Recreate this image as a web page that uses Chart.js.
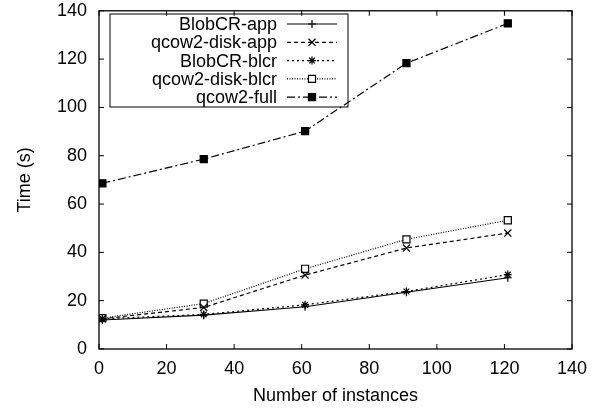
<!DOCTYPE html>
<html>
<head>
<meta charset="utf-8">
<script src="https://cdn.jsdelivr.net/npm/chart.js@4/dist/chart.umd.min.js"></script>
<style>
  html, body { margin: 0; padding: 0; background: #fff; }
  #wrap { width: 607px; height: 411px; }
</style>
</head>
<body>
<div id="wrap"><canvas id="timeChart" width="607" height="411"></canvas></div>
<script>
// number of instances (x) and time in seconds for each series
const instances = [1, 31, 61, 91, 121];
const blobcrApp = [12, 14, 17.5, 23.5, 29.5];
const qcowDiskApp = [12.5, 17.2, 30.6, 41.8, 48];
const blobcrBlcr = [12.5, 14.3, 18.3, 23.8, 30.8];
const qcowDiskBlcr = [12.8, 18.8, 33.2, 45.4, 53.3];
const qcowFull = [68.6, 78.6, 90.2, 118.3, 134.8];

const seriesNames = ["BlobCR-app", "qcow2-disk-app", "BlobCR-blcr", "qcow2-disk-blcr", "qcow2-full"];
const xTicks = [0, 20, 40, 60, 80, 100, 120, 140];
const yTicks = [0, 20, 40, 60, 80, 100, 120, 140];

const FONT = "'Liberation Sans', Arial, Helvetica, sans-serif";

// build {x, y} points from the arrays
function toPoints(values) {
  return instances.map((x, i) => ({ x: x, y: values[i] }));
}

const styles = [
  { dash: [], point: "cross", radius: 4, fill: "#000" },
  { dash: [4, 3], point: "crossRot", radius: 5, fill: "#000" },
  { dash: [2, 3], point: "star", radius: 4, fill: "#000" },
  { dash: [1, 1.5], point: "rect", radius: 5, fill: "#fff" },
  { dash: [8, 3, 2, 3], point: "rect", radius: 5, fill: "#000" },
];

const allValues = [blobcrApp, qcowDiskApp, blobcrBlcr, qcowDiskBlcr, qcowFull];

const datasets = allValues.map((vals, i) => ({
  label: seriesNames[i],
  data: toPoints(vals),
  showLine: true,
  borderColor: "#000",
  borderWidth: 1.2,
  borderDash: styles[i].dash,
  pointStyle: styles[i].point,
  pointRadius: styles[i].radius,
  pointBorderWidth: 1.2,
  pointBorderColor: "#000",
  pointBackgroundColor: styles[i].fill,
  fill: false,
  tension: 0,
}));

// gnuplot-like frame, inward ticks and key box
const framePlugin = {
  id: "frame",
  afterDraw(chart) {
    const ctx = chart.ctx;
    const area = chart.chartArea;
    const xs = chart.scales.x;
    const ys = chart.scales.y;
    ctx.save();
    ctx.strokeStyle = "#000";
    ctx.lineWidth = 1.3;
    ctx.setLineDash([]);
    ctx.strokeRect(area.left, area.top, area.right - area.left, area.bottom - area.top);

    ctx.lineWidth = 1;
    const tl = 5;
    ctx.beginPath();
    xTicks.forEach((v) => {
      const px = xs.getPixelForValue(v);
      ctx.moveTo(px, area.bottom);
      ctx.lineTo(px, area.bottom - tl);
      ctx.moveTo(px, area.top);
      ctx.lineTo(px, area.top + tl);
    });
    yTicks.forEach((v) => {
      const py = ys.getPixelForValue(v);
      ctx.moveTo(area.left, py);
      ctx.lineTo(area.left + tl, py);
      ctx.moveTo(area.right, py);
      ctx.lineTo(area.right - tl, py);
    });
    ctx.stroke();

    // key box
    const boxL = 110, boxT = 14, boxW = 238, boxH = 93;
    ctx.lineWidth = 1;
    ctx.strokeRect(boxL, boxT, boxW, boxH);
    ctx.font = "18px " + FONT;
    ctx.fillStyle = "#000";
    ctx.textAlign = "right";
    ctx.textBaseline = "middle";
    chart.data.datasets.forEach((ds, i) => {
      const rowY = 24 + i * 18.3;
      ctx.fillText(ds.label, 277, rowY + 1);
      ctx.beginPath();
      ctx.setLineDash(ds.borderDash);
      ctx.lineWidth = ds.borderWidth;
      ctx.moveTo(287, rowY);
      ctx.lineTo(337, rowY);
      ctx.stroke();
      ctx.setLineDash([]);
      ctx.fillStyle = ds.pointBackgroundColor;
      ctx.strokeStyle = "#000";
      Chart.helpers.drawPoint(ctx, {
        pointStyle: ds.pointStyle,
        radius: ds.pointRadius,
        borderWidth: ds.pointBorderWidth,
        rotation: 0,
      }, 312, rowY);
      ctx.fillStyle = "#000";
    });
    ctx.restore();
  },
};

new Chart(document.getElementById("timeChart"), {
  type: "scatter",
  data: { datasets: datasets },
  options: {
    responsive: false,
    animation: false,
    devicePixelRatio: 1,
    layout: { padding: { top: 10, right: 35, bottom: 0, left: 0 } },
    plugins: {
      legend: { display: false },
      tooltip: { enabled: false },
    },
    scales: {
      x: {
        type: "linear",
        min: 0,
        max: 140,
        afterFit: (scale) => { scale.height = 62; },
        grid: { display: false, drawTicks: false },
        border: { display: false },
        ticks: {
          stepSize: 20,
          padding: 9,
          color: "#000",
          font: { family: FONT, size: 18 },
        },
        title: {
          display: true,
          text: "Number of instances",
          color: "#000",
          font: { family: FONT, size: 18 },
          padding: { top: 0, bottom: 4 },
        },
      },
      y: {
        type: "linear",
        min: 0,
        max: 140,
        afterFit: (scale) => { scale.width = 99; },
        // invisible tick marks give the label gap without extra top padding
        grid: {
          display: true,
          drawOnChartArea: false,
          drawTicks: true,
          tickLength: 12,
          color: "rgba(0,0,0,0)",
        },
        border: { display: false },
        ticks: {
          stepSize: 20,
          padding: 0,
          color: "#000",
          font: { family: FONT, size: 18 },
        },
        title: {
          display: true,
          text: "Time (s)",
          color: "#000",
          font: { family: FONT, size: 18 },
          padding: { top: 14, bottom: 0 },
        },
      },
    },
  },
  plugins: [framePlugin],
});
</script>
</body>
</html>
